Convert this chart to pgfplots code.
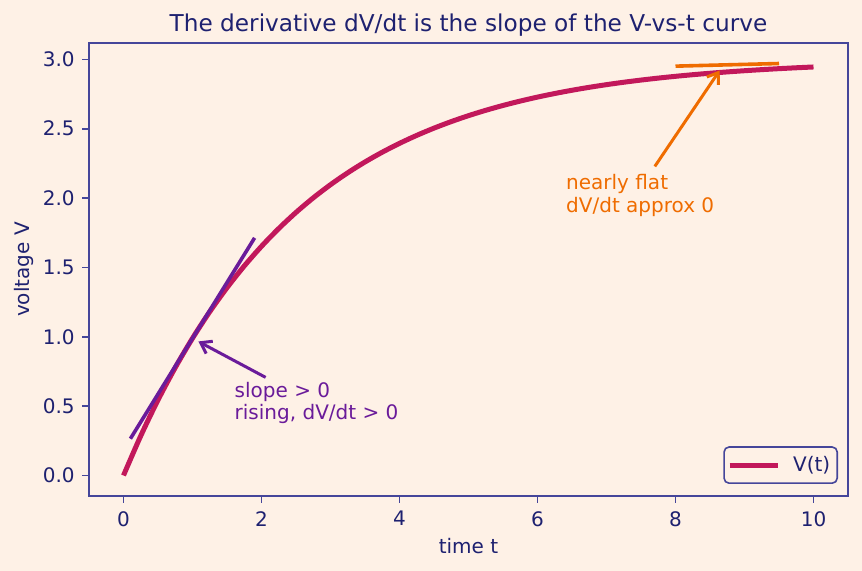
\documentclass[border=0pt]{standalone}
\usepackage{pgfplots}
\pgfplotsset{compat=1.18}
\usepackage{fontspec}
\setmainfont{DejaVu Sans}
\usetikzlibrary{arrows.meta}

\definecolor{bg}{HTML}{FEF1E6}
\definecolor{navy}{HTML}{1E2170}
\definecolor{framec}{HTML}{45469A}
\definecolor{curvec}{HTML}{C2185B}
\definecolor{purplec}{HTML}{6A1B9A}
\definecolor{orangec}{HTML}{EF6C00}

\begin{document}
\begin{tikzpicture}
\path[use as bounding box, fill=bg] (0,0) rectangle (431pt,285.5pt);
\begin{axis}[
  at={(44.5pt,37.5pt)}, anchor=south west,
  width=379.5pt, height=226.5pt, scale only axis,
  xmin=-0.5, xmax=10.5, ymin=-0.148, ymax=3.118,
  axis line style={draw=framec, line width=0.8pt},
  axis background/.style={fill=bg},
  xtick={0,2,4,6,8,10}, xticklabels={0,2,4,6,8,10},
  ytick={0,0.5,1,1.5,2,2.5,3}, yticklabels={0.0,0.5,1.0,1.5,2.0,2.5,3.0},
  xtick pos=bottom, ytick pos=left,
  tick align=outside, major tick length=3.5pt,
  tick style={draw=framec, line width=0.8pt},
  /pgf/number format/assume math mode=true,
  every tick label/.append style={text=navy, font=\fontsize{10}{12}\selectfont},
  xticklabel style={anchor=north, inner sep=0pt, yshift=-4pt},
  yticklabel style={anchor=east, inner sep=0pt, xshift=-3.5pt},
  title={The derivative dV/dt is the slope of the V-vs-t curve},
  every axis title/.style={at={(axis description cs:0.5,1.0243)}, anchor=base,
    inner sep=0pt, text=navy, font=\fontsize{11.6}{14}\selectfont},
  xlabel={time t},
  every axis x label/.style={at={(axis description cs:0.5,-0.128)}, anchor=base,
    inner sep=0pt, text=navy, font=\fontsize{10}{12}\selectfont},
  ylabel={voltage V},
  every axis y label/.style={at={(axis description cs:-0.079,0.5)}, anchor=base,
    rotate=90, inner sep=0pt, text=navy, font=\fontsize{10}{12}\selectfont},
  legend style={at={(axis description cs:1,0)}, anchor=south east,
    xshift=-5pt, yshift=6pt, draw=framec, line width=0.8pt,
    rounded corners=2.5pt, fill=bg, text=navy,
    font=\fontsize{10}{12}\selectfont, inner xsep=1.5pt, inner ysep=2.5pt},
  legend cell align=left,
]
% V(t) for the charging curve
\addplot[curvec, line width=2.5pt, smooth,
  legend image code/.code={\draw[curvec, line width=2.5pt] (0pt,0pt) -- (24pt,0pt);
    \path (28.5pt,0pt);}]
  coordinates {
  (0,0) (0.25,0.28549) (0.5,0.54381) (0.75,0.77755) (1,0.98904)
  (1.25,1.18041) (1.5,1.35356) (1.75,1.51024) (2,1.65201) (2.25,1.78029)
  (2.5,1.89636) (2.75,2.00139) (3,2.09642) (3.25,2.18240) (3.5,2.26021)
  (3.75,2.33061) (4,2.39431) (4.25,2.45195) (4.5,2.50410) (4.75,2.55129)
  (5,2.59399) (5.25,2.63263) (5.5,2.66759) (5.75,2.69922) (6,2.72785)
  (6.25,2.75375) (6.5,2.77718) (6.75,2.79838) (7,2.81757) (7.25,2.83493)
  (7.5,2.85064) (7.75,2.86485) (8,2.87771) (8.25,2.88935) (8.5,2.89988)
  (8.75,2.90941) (9,2.91803) (9.25,2.92583) (9.5,2.93289) (9.75,2.93927)
  (10,2.94505)};
\addlegendentry{V(t)}
% tangent near t = 1 (steep)
\addplot[purplec, line width=1.8pt, forget plot] coordinates {(0.1,0.265) (1.9,1.713)};
% tangent near the plateau (almost flat)
\addplot[orangec, line width=1.8pt, forget plot] coordinates {(8,2.951) (9.5,2.970)};

% annotations
\draw[purplec, line width=1.5pt, -{Straight Barb[length=5pt, width=7pt]}]
  (axis cs:2.06,0.707) -- (axis cs:1.085,0.966);
\node[anchor=base west, inner sep=0pt, text=purplec, font=\fontsize{10}{12}\selectfont]
  at (axis cs:1.606,0.560) {slope > 0};
\node[anchor=base west, inner sep=0pt, text=purplec, font=\fontsize{10}{12}\selectfont]
  at (axis cs:1.606,0.402) {rising, dV/dt > 0};
\draw[orangec, line width=1.5pt, -{Straight Barb[length=5pt, width=7pt]}]
  (axis cs:7.70,2.228) -- (axis cs:8.64,2.92);
\node[anchor=base west, inner sep=0pt, text=orangec, font=\fontsize{10}{12}\selectfont]
  at (axis cs:6.41,2.06) {nearly flat};
\node[anchor=base west, inner sep=0pt, text=orangec, font=\fontsize{10}{12}\selectfont]
  at (axis cs:6.41,1.898) {dV/dt approx 0};
\end{axis}
\end{tikzpicture}
\end{document}
